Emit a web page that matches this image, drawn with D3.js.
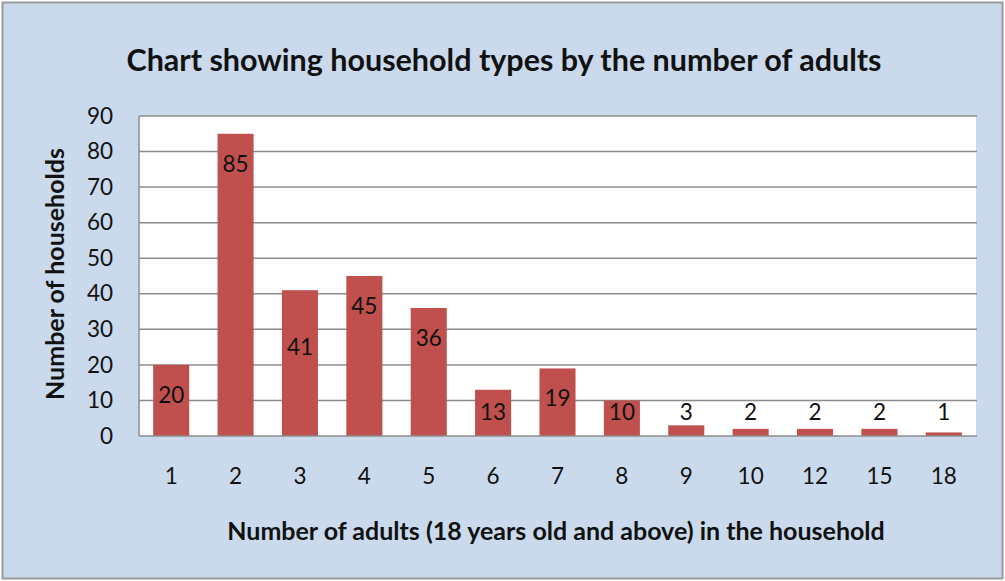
<!DOCTYPE html>
<html>
<head>
<meta charset="utf-8">
<script src="https://cdn.jsdelivr.net/npm/d3@7"></script>
<style>
  html, body { margin: 0; padding: 0; background: #fff; }
  svg { display: block; font-family: Lato, "Open Sans", sans-serif; }
</style>
</head>
<body>
<div id="chart"></div>
<script>
// --- Data ---
const adults = ["1", "2", "3", "4", "5", "6", "7", "8", "9", "10", "12", "15", "18"];
const households = [20, 85, 41, 45, 36, 13, 19, 10, 3, 2, 2, 2, 1];
const yTicks = [0, 10, 20, 30, 40, 50, 60, 70, 80, 90];

const titleText = "Chart showing household types by the number of adults";
const xTitle = "Number of adults (18 years old and above) in the household";
const yTitle = "Number of households";

// --- Dimensions ---
const W = 1005, H = 581;
const plot = { left: 139, right: 976, top: 116, bottom: 436 };

const svg = d3.select("#chart")
  .append("svg")
  .attr("width", W)
  .attr("height", H);

// background + outer border
svg.append("rect")
  .attr("x", 2.5).attr("y", 2.5)
  .attr("width", W - 5).attr("height", H - 5)
  .attr("fill", "#cadaec")
  .attr("stroke", "#9a9a9a")
  .attr("stroke-width", 2);

// plot area
svg.append("rect")
  .attr("x", plot.left).attr("y", plot.top)
  .attr("width", plot.right - plot.left)
  .attr("height", plot.bottom - plot.top)
  .attr("fill", "#ffffff");

// --- Scales ---
const x = d3.scaleBand()
  .domain(adults)
  .range([plot.left, plot.right])
  .paddingInner(0.44)
  .paddingOuter(0.22);

const y = d3.scaleLinear()
  .domain([0, 90])
  .range([plot.bottom, plot.top]);

// gridlines
svg.append("g")
  .selectAll("line")
  .data(yTicks.slice(1))
  .join("line")
  .attr("x1", plot.left).attr("x2", plot.right + 1)
  .attr("y1", d => y(d)).attr("y2", d => y(d))
  .attr("stroke", "#8c8c8c")
  .attr("stroke-width", 1.5);

// y axis (labels only, line drawn separately)
const yAxis = svg.append("g")
  .attr("transform", `translate(${plot.left},0)`)
  .call(d3.axisLeft(y).tickValues(yTicks).tickSize(0).tickPadding(26));
yAxis.select(".domain").remove();
yAxis.selectAll("text")
  .attr("font-family", "Lato, sans-serif")
  .attr("font-size", 22.5)
  .attr("fill", "#111");

// x axis labels
const xAxis = svg.append("g")
  .attr("transform", `translate(0,${plot.bottom})`)
  .call(d3.axisBottom(x).tickSize(0).tickPadding(32));
xAxis.select(".domain").remove();
xAxis.selectAll("text")
  .attr("font-family", "Lato, sans-serif")
  .attr("font-size", 22.5)
  .attr("fill", "#111");

// --- Bars ---
const rows = adults.map((a, i) => ({ cat: a, value: households[i] }));

svg.append("g")
  .selectAll("rect")
  .data(rows)
  .join("rect")
  .attr("x", d => x(d.cat))
  .attr("y", d => y(d.value))
  .attr("width", x.bandwidth())
  .attr("height", d => y(0) - y(d.value))
  .attr("fill", "#c0504d");

// plot frame lines (left + bottom)
svg.append("line")
  .attr("x1", plot.left).attr("x2", plot.left)
  .attr("y1", plot.top).attr("y2", plot.bottom)
  .attr("stroke", "#8c8c8c").attr("stroke-width", 1.5);
svg.append("line")
  .attr("x1", plot.left).attr("x2", plot.right + 1)
  .attr("y1", plot.bottom).attr("y2", plot.bottom)
  .attr("stroke", "#8c8c8c").attr("stroke-width", 1.5);

// --- Data labels (inside end, clamped above the axis) ---
// the "3" label sits lower in the original
const labelNudge = { "3": 27 };
svg.append("g")
  .selectAll("text")
  .data(rows)
  .join("text")
  .attr("x", d => x(d.cat) + x.bandwidth() / 2)
  .attr("y", d => Math.min(y(d.value) + 30, y(0) - 24) + (labelNudge[d.cat] || 0))
  .attr("dy", "0.35em")
  .attr("text-anchor", "middle")
  .attr("font-size", 22.5)
  .attr("fill", "#111")
  .text(d => d.value);

// --- Titles ---
svg.append("text")
  .attr("x", 504).attr("y", 60)
  .attr("dy", "0.35em")
  .attr("text-anchor", "middle")
  .attr("font-weight", 700)
  .attr("font-size", 30.5)
  .attr("fill", "#111")
  .text(titleText);

svg.append("text")
  .attr("x", 556).attr("y", 531)
  .attr("dy", "0.35em")
  .attr("text-anchor", "middle")
  .attr("font-weight", 700)
  .attr("font-size", 25)
  .attr("fill", "#111")
  .text(xTitle);

svg.append("text")
  .attr("transform", "translate(55,274) rotate(-90)")
  .attr("dy", "0.35em")
  .attr("text-anchor", "middle")
  .attr("font-weight", 700)
  .attr("font-size", 25)
  .attr("fill", "#111")
  .text(yTitle);
</script>
</body>
</html>
